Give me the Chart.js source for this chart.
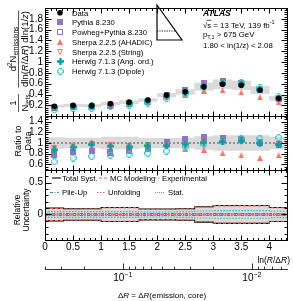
<!DOCTYPE html>
<html>
<head>
<meta charset="utf-8">
<script src="https://cdn.jsdelivr.net/npm/chart.js@4.4.1/dist/chart.umd.min.js"></script>
<style>
  html, body { margin: 0; padding: 0; background: #fff; }
  #wrap { width: 293px; height: 301px; }
</style>
</head>
<body>
<div id="wrap"><canvas id="lund" width="293" height="301"></canvas></div>
<script>
// bins in ln(R/dR)
const binCenters = [0.167, 0.5, 0.833, 1.167, 1.5, 1.833, 2.167, 2.5, 2.833, 3.167, 3.5, 3.833, 4.167];
const binEdges = [0, 0.333, 0.667, 1, 1.333, 1.667, 2, 2.333, 2.667, 3, 3.333, 3.667, 4, 4.333];

// unfolded data
const dataVals = [0.185, 0.20, 0.195, 0.23, 0.26, 0.30, 0.39, 0.45, 0.545, 0.59, 0.57, 0.485, 0.33];

// MC / data
const ratioPythia = [0.80, 0.84, 0.86, 0.83, 0.86, 0.90, 1.02, 1.07, 1.11, 1.10, 1.07, 1.01, 0.98];
const ratioPowheg = [0.78, 0.83, 0.85, 0.82, 0.85, 0.89, 1.00, 1.05, 1.09, 1.08, 1.06, 1.00, 0.97];
const ratioSherpaAhadic = [0.92, 0.97, 1.02, 0.98, 0.97, 0.96, 0.96, 0.89, 0.87, 0.81, 0.77, 0.72, 0.77];
const ratioSherpaString = [0.90, 0.95, 0.99, 0.96, 0.95, 0.95, 0.97, 0.97, 1.00, 1.01, 1.02, 0.99, 0.96];
const ratioHerwigAng = [0.87, 0.92, 0.97, 0.94, 0.93, 0.95, 0.95, 0.98, 1.01, 1.02, 1.04, 1.00, 0.97];
const ratioHerwigDipole = [0.65, 0.72, 0.75, 0.77, 0.79, 0.81, 0.85, 0.92, 0.98, 1.02, 1.08, 1.08, 1.10];

// relative uncertainties
const uncTotal = [0.10, 0.09, 0.09, 0.11, 0.11, 0.085, 0.085, 0.09, 0.12, 0.14, 0.14, 0.14, 0.11];
const uncModel = [0.095, 0.085, 0.085, 0.105, 0.105, 0.08, 0.08, 0.085, 0.115, 0.135, 0.135, 0.135, 0.105];
const uncExp = [0.045, 0.045, 0.045, 0.045, 0.045, 0.04, 0.04, 0.045, 0.055, 0.06, 0.06, 0.06, 0.05];
const uncPileup = [0.015, 0.015, 0.015, 0.015, 0.015, 0.015, 0.015, 0.015, 0.015, 0.015, 0.015, 0.015, 0.015];
const uncUnfold = [0.008, 0.008, 0.008, 0.008, 0.008, 0.008, 0.008, 0.008, 0.01, 0.01, 0.01, 0.01, 0.01];
const uncStat = [0.004, 0.004, 0.004, 0.004, 0.004, 0.004, 0.004, 0.004, 0.005, 0.005, 0.005, 0.005, 0.005];

// tick labels
const xTickLabels = [0, 0.5, 1, 1.5, 2, 2.5, 3, 3.5, 4];
const mainTickLabels = [0.2, 0.4, 0.6, 0.8, 1, 1.2, 1.4, 1.6, 1.8];
const ratioTickLabels = [0.6, 0.8, 1, 1.2, 1.4];
const uncTickLabels = [0, 0.5];

// secondary axis: dR = R * exp(-x)
const jetR = 0.4;
const drTicks = [0.4, 0.3, 0.2, 0.1, 0.09, 0.08, 0.07, 0.06, 0.05, 0.04, 0.03, 0.02, 0.01, 0.009, 0.008, 0.007, 0.006];
const drMajor = [0.1, 0.01];

const F = "'Liberation Sans', Arial, Helvetica, sans-serif";
const C = {
    purple: '#8e75c2', red: '#f87764', teal: '#06a0a0', cyan: '#3cc6c6', band: '#dadada'
};

function marker(kind, color, s) {
    const c = document.createElement('canvas');
    c.width = s; c.height = s;
    const g = c.getContext('2d');
    const m = s / 2;
    g.fillStyle = color; g.strokeStyle = color; g.lineWidth = 1;
    if (kind === 'square') g.fillRect(0, 0, s, s);
    if (kind === 'openSquare') g.strokeRect(0.5, 0.5, s - 1, s - 1);
    if (kind === 'triUp') { g.beginPath(); g.moveTo(m, 0); g.lineTo(s, s); g.lineTo(0, s); g.closePath(); g.fill(); }
    if (kind === 'triDown') { g.beginPath(); g.moveTo(0.5, 0.5); g.lineTo(s - 0.5, 0.5); g.lineTo(m, s - 0.5); g.closePath(); g.stroke(); }
    if (kind === 'cross' || kind === 'openCross') {
        const a = kind === 'cross' ? s * 0.17 : s * 0.2, o = kind === 'cross' ? 0 : 0.5, e = s - o;
        g.beginPath();
        g.moveTo(m - a, o); g.lineTo(m + a, o); g.lineTo(m + a, m - a); g.lineTo(e, m - a); g.lineTo(e, m + a);
        g.lineTo(m + a, m + a); g.lineTo(m + a, e); g.lineTo(m - a, e); g.lineTo(m - a, m + a); g.lineTo(o, m + a);
        g.lineTo(o, m - a); g.lineTo(m - a, m - a); g.closePath();
        kind === 'cross' ? g.fill() : g.stroke();
    }
    return c;
}

const mk = {
    pythia: marker('square', C.purple, 6),
    powheg: marker('openSquare', C.purple, 6),
    ahadic: marker('triUp', C.red, 6),
    string: marker('triDown', C.red, 6),
    ang: marker('cross', C.teal, 7),
    dipole: marker('openCross', C.cyan, 7)
};

const pts = vals => binCenters.map((x, i) => ({ x, y: vals[i] }));
const mcTop = r => binCenters.map((x, i) => ({ x, y: r[i] * dataVals[i] }));
const steps = (vals, sign) => binEdges.map((x, i) => ({ x, y: sign * vals[Math.min(i, vals.length - 1)] }));
const band = (mid, u) => binCenters.map((x, i) => ({ x, y: [mid(i) * (1 - u[i]), mid(i) * (1 + u[i])] }));

function bandSet(data, axis) {
    return { type: 'bar', data, yAxisID: axis, backgroundColor: C.band, borderWidth: 0,
        barPercentage: 1, categoryPercentage: 1, grouped: false, order: 30 };
}
function mcSet(data, axis, style, order) {
    return { type: 'line', data, yAxisID: axis, showLine: false, pointStyle: style, pointRadius: 3, order };
}
function stepSet(vals, sign, color, dash, width, order) {
    return { type: 'line', data: steps(vals, sign), yAxisID: 'yUnc', stepped: true, borderColor: color,
        borderDash: dash, borderWidth: width, pointRadius: 0, fill: false, order };
}

const datasets = [
    bandSet(band(i => dataVals[i], uncTotal), 'yMain'),
    bandSet(band(() => 1, uncTotal), 'yRatio'),
    bandSet(binCenters.map((x, i) => ({ x, y: [-uncTotal[i], uncTotal[i]] })), 'yUnc'),
    { type: 'line', data: [{ x: 0, y: 1 }, { x: 4.333, y: 1 }], yAxisID: 'yRatio', borderColor: '#7a7a7a',
        borderDash: [2, 2], borderWidth: 1.5, pointRadius: 0, order: 25 }
];
[[uncStat, '#8a86cc', [1, 1], 20], [uncUnfold, '#e2557e', [1.5, 1.5], 19], [uncPileup, '#4a7fc0', [3, 1.5, 1, 1.5], 18],
 [uncExp, '#3fb4b4', [1.5, 1.5], 17], [uncTotal, '#000', [], 16], [uncModel, '#f26a5a', [3, 2], 15]]
    .forEach(([v, col, dash, o]) => {
        datasets.push(stepSet(v, 1, col, dash, 1.1, o));
        datasets.push(stepSet(v, -1, col, dash, 1.1, o));
    });
[[ratioPythia, mk.pythia, 9], [ratioPowheg, mk.powheg, 8], [ratioSherpaString, mk.string, 7],
 [ratioSherpaAhadic, mk.ahadic, 6], [ratioHerwigDipole, mk.dipole, 5], [ratioHerwigAng, mk.ang, 4]]
    .forEach(([r, style, o]) => {
        datasets.push(mcSet(mcTop(r), 'yMain', style, o));
        datasets.push(mcSet(pts(r), 'yRatio', style, o));
    });
datasets.push({ type: 'line', data: pts(dataVals), yAxisID: 'yMain', showLine: false, pointStyle: 'circle',
    pointRadius: 2.8, backgroundColor: '#000', borderColor: '#000', borderWidth: 0, order: 1 });

const fmt = v => String(parseFloat(v.toFixed(2)));
const onStep = (v, s) => Math.abs(v / s - Math.round(v / s)) < 1e-6;

function yScale(min, max, labels, weight, stackWeight) {
    return {
        type: 'linear', position: 'left', stack: 'panels', stackWeight, weight, min, max,
        grid: { display: false, drawTicks: false }, border: { display: false },
        afterBuildTicks: s => { s.ticks = labels.map(value => ({ value })); },
        ticks: { padding: 2, autoSkip: false, color: '#000', font: { family: F, size: 10 }, callback: v => fmt(v) },
        afterFit: s => { s.width = 45; }
    };
}

function runs(ctx, parts, x, y, align) {
    let w = 0;
    parts.forEach(p => { ctx.font = p[1]; w += ctx.measureText(p[0]).width; });
    let cx = align === 'center' ? x - w / 2 : align === 'right' ? x - w : x;
    parts.forEach(p => { ctx.font = p[1]; ctx.fillText(p[0], cx, y + (p[2] || 0)); cx += ctx.measureText(p[0]).width; });
    return w;
}
const f = s => `${s}px ${F}`;
const fi = s => `italic ${s}px ${F}`;

function seg(ctx, x1, y1, x2, y2) { ctx.beginPath(); ctx.moveTo(x1, y1); ctx.lineTo(x2, y2); ctx.stroke(); }

const decor = {
    id: 'decor',
    afterDatasetsDraw(chart) {
        const { ctx, chartArea: ca, scales } = chart;
        const x = scales.x;
        ctx.save();
        ctx.strokeStyle = '#000'; ctx.fillStyle = '#000'; ctx.lineWidth = 1;
        ctx.textAlign = 'left'; ctx.textBaseline = 'alphabetic';

        // frames with inward ticks
        [[scales.yMain, 0.2, 0.04], [scales.yRatio, 0.2, 0.04], [scales.yUnc, 0.5, 0.1]].forEach(([ys, maj, mn]) => {
            const top = Math.round(ys.top) + 0.5, bot = Math.round(ys.bottom) + 0.5;
            const l = Math.round(ca.left) + 0.5, r = Math.round(ca.right) - 0.5;
            ctx.strokeRect(l, top, r - l, bot - top);
            const i0 = Math.ceil(ys.min / mn - 1e-6), i1 = Math.floor(ys.max / mn + 1e-6);
            for (let i = i0; i <= i1; i++) {
                const v = i * mn, py = Math.round(ys.getPixelForValue(v)) + 0.5;
                const L = onStep(v, maj) ? 6 : 3;
                seg(ctx, l, py, l + L, py); seg(ctx, r, py, r - L, py);
            }
            for (let i = 0; i <= 43; i++) {
                const px = Math.round(x.getPixelForValue(i * 0.1)) + 0.5;
                const L = i % 5 === 0 ? 5 : 2.5;
                seg(ctx, px, bot, px, bot - L); seg(ctx, px, top, px, top + L);
            }
        });

        // legend (top panel)
        const leg = [
            ['Data', null], ['Pythia 8.230', mk.pythia], ['Powheg+Pythia 8.230', mk.powheg],
            ['Sherpa 2.2.5 (AHADIC)', mk.ahadic], ['Sherpa 2.2.5 (String)', mk.string],
            ['Herwig 7.1.3 (Ang. ord.)', mk.ang], ['Herwig 7.1.3 (Dipole)', mk.dipole]
        ];
        leg.forEach(([t, m], i) => {
            const cy = 12.7 + i * 9.75;
            if (m) ctx.drawImage(m, Math.round(60 - m.width / 2), Math.round(cy - m.height / 2));
            else { ctx.beginPath(); ctx.arc(60, cy, 2.8, 0, Math.PI * 2); ctx.fill(); }
            ctx.font = f(7.7); ctx.fillText(t, 72, cy + 2.8);
        });

        // Lund triangle sketch
        ctx.lineWidth = 1.2;
        ctx.beginPath(); ctx.moveTo(157, 5); ctx.lineTo(157, 40); ctx.lineTo(182, 40); ctx.closePath(); ctx.stroke();
        ctx.lineWidth = 0.9; ctx.setLineDash([1.2, 1.2]);
        seg(ctx, 157, 31, 175.5, 31);
        ctx.setLineDash([]); ctx.lineWidth = 1;

        // ATLAS label
        ctx.font = `bold italic 8.5px ${F}`; ctx.fillText('ATLAS', 203, 16);
        const w0 = runs(ctx, [['\u221A', f(7.8)]], 203, 27.5);
        ctx.lineWidth = 0.7; seg(ctx, 203 + w0 - 0.5, 20.3, 203 + w0 + 4, 20.3); ctx.lineWidth = 1;
        runs(ctx, [['s = 13 TeV, 139 fb', f(7.8)], ['-1', f(5.5), -3.5]], 203 + w0, 27.5);
        runs(ctx, [['p', f(7.8)], ['T,1', f(5.5), 2], [' > 675 GeV', f(7.8)]], 203, 37);
        runs(ctx, [['1.80 < ln(1/z) < 2.08', f(7.8)]], 203, 48);

        // uncertainty legend
        const uleg = [
            ['Total Syst.', '#000', [], 52, 62, 178], ['MC Modeling', '#f26a5a', [3, 2], 99, 110, 178],
            ['Experimental', '#3fb4b4', [1.5, 1.5], 152, 162, 178], ['Pile-Up', '#4a7fc0', [3, 1.5, 1, 1.5], 50, 62, 192.5],
            ['Unfolding', '#e2557e', [1.5, 1.5], 97, 108, 192.5], ['Stat.', '#8a86cc', [1, 1], 155, 168, 192.5]
        ];
        uleg.forEach(([t, col, dash, lx, tx, cy]) => {
            ctx.strokeStyle = col; ctx.setLineDash(dash); ctx.lineWidth = 1.1;
            seg(ctx, lx, cy, lx + 9, cy);
            ctx.setLineDash([]); ctx.fillStyle = '#000'; ctx.font = f(7.7);
            ctx.fillText(t, tx, cy + 2.8);
        });
        ctx.strokeStyle = '#000'; ctx.lineWidth = 1;

        // x axis title
        runs(ctx, [['ln(', f(8.5)], ['R', fi(8.5)], ['/\u0394', f(8.5)], ['R', fi(8.5)], [')', f(8.5)]], 290, 263, 'right');

        // dR axis
        const yA = 269.5;
        ctx.strokeStyle = '#333';
        seg(ctx, ca.left, yA, ca.right, yA);
        drTicks.forEach(dr => {
            const px = Math.round(x.getPixelForValue(Math.log(jetR / dr))) + 0.5;
            seg(ctx, px, yA, px, yA - (drMajor.includes(dr) ? 6 : 3));
        });
        ctx.fillStyle = '#000';
        drMajor.forEach(dr => {
            const px = x.getPixelForValue(Math.log(jetR / dr));
            const ex = Math.round(Math.log10(dr));
            runs(ctx, [['10', f(10)], ['\u2212' + Math.abs(ex), f(7), -4.5]], px, 281, 'center');
        });
        runs(ctx, [['\u0394', f(8)], ['R', fi(8)], [' = \u0394', f(8)], ['R', fi(8)], ['(emission, core)', f(8)]], 118, 298);

        // rotated y titles
        ctx.rotate(-Math.PI / 2);
        const numA = [['1', f(9.5)]];
        const denA = [['N', f(9.5)], ['jets', f(6.5), 2]];
        const wa = Math.max(runs(ctx, numA, -103, 15.5, 'center'), runs(ctx, denA, -103, 27.5, 'center'));
        ctx.lineWidth = 0.8; seg(ctx, -103 - wa / 2 - 0.5, 18.5, -103 + wa / 2 + 0.5, 18.5);
        runs(ctx, [['d', f(9.5)], ['2', f(6.5), -4], ['N', f(9.5)], ['emissions', f(6.5), 2]], -49, 15.5, 'center');
        const wb = runs(ctx, [['dln(', f(9.5)], ['R', fi(9.5)], ['/\u0394', f(9.5)], ['R', fi(9.5)],
            [') dln(1/', f(9.5)], ['z', fi(9.5)], [')', f(9.5)]], -49, 27.5, 'center');
        seg(ctx, -49 - wb / 2 - 0.5, 18.5, -49 + wb / 2 + 0.5, 18.5);
        runs(ctx, [['Ratio to', f(9)]], -141, 21, 'center');
        runs(ctx, [['Data', f(9)]], -141, 30.5, 'center');
        runs(ctx, [['Relative', f(8.5)]], -210, 19.5, 'center');
        runs(ctx, [['Uncertainty', f(8.5)]], -210, 28.5, 'center');
        ctx.restore();
    }
};

new Chart(document.getElementById('lund').getContext('2d'), {
    type: 'line',
    data: { datasets },
    options: {
        responsive: false,
        animation: false,
        devicePixelRatio: 1,
        layout: { padding: { top: 2, right: 1, left: 0, bottom: 0 } },
        plugins: { legend: { display: false }, tooltip: { enabled: false } },
        scales: {
            x: {
                type: 'linear', position: 'bottom', min: 0, max: 4.333, offset: false,
                grid: { display: false, drawTicks: false }, border: { display: false },
                afterBuildTicks: s => { s.ticks = xTickLabels.map(value => ({ value })); },
                ticks: { padding: 1, maxRotation: 0, autoSkip: false, color: '#000',
                    font: { family: F, size: 10 }, callback: v => fmt(v) },
                afterFit: s => { s.height = 61; }
            },
            yUnc: yScale(-0.4, 0.7, uncTickLabels, 1, 72),
            yRatio: yScale(0.5, 1.5, ratioTickLabels, 2, 55),
            yMain: yScale(0, 2, mainTickLabels, 3, 111)
        }
    },
    plugins: [decor]
});
</script>
</body>
</html>
